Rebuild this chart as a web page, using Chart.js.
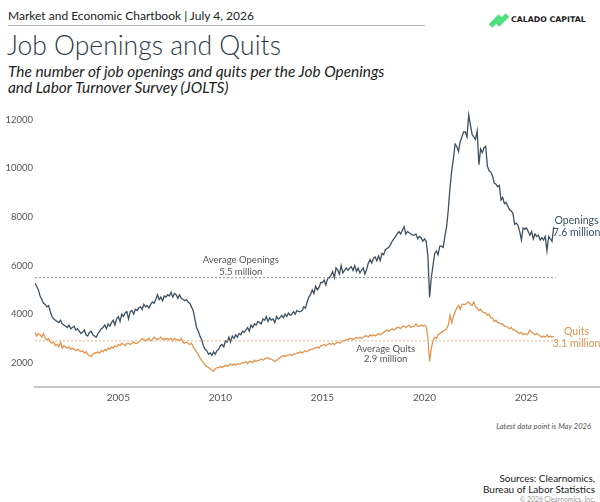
<!DOCTYPE html>
<html>
<head>
<meta charset="utf-8">
<script src="https://cdn.jsdelivr.net/npm/chart.js@4.4.1/dist/chart.umd.min.js"></script>
<style>
  body { margin: 0; background: #fff; font-family: Lato, "Open Sans", sans-serif; }
  #page { position: relative; width: 600px; height: 502px; overflow: hidden; }
  .abs { position: absolute; white-space: nowrap; }
  #header { left: 8px; top: 8px; font-size: 12px; color: #222; }
  #rule { left: 8px; top: 25px; width: 417px; height: 1px; background: #b5b5b5; }
  #title { left: 7px; top: 29px; font-size: 26.5px; font-weight: 300; color: #2f3a44; }
  #subtitle { left: 8px; top: 64px; font-size: 15.4px; font-style: italic; line-height: 15.5px; color: #222; }
  #logo { left: 489px; top: 14px; width: 110px; height: 14px; }
  #logo .txt { position: absolute; left: 22px; top: 1px; font-family: "DejaVu Sans", sans-serif; font-weight: bold; font-size: 7.8px; letter-spacing: 0; color: #222; }
  #logo .bar { position: absolute; width: 5px; height: 14px; background: #4ee07f; transform: rotate(45deg); }
  #latest { right: 9px; top: 421px; font-size: 7.6px; font-style: italic; color: #555; }
  #sources { right: 5px; top: 473px; font-size: 10px; line-height: 10.5px; color: #222; text-align: right; }
  #copy { right: 5px; top: 495px; font-size: 6.8px; color: #999; }
  #chart { position: absolute; left: 0; top: 100px; }
</style>
</head>
<body>
<div id="page">
  <div class="abs" id="header">Market and Economic Chartbook | July 4, 2026</div>
  <div class="abs" id="rule"></div>
  <div class="abs" id="title">Job Openings and Quits</div>
  <div class="abs" id="subtitle">The number of job openings and quits per the Job Openings<br>and Labor Turnover Survey (JOLTS)</div>
  <div class="abs" id="logo">
    <div class="bar" style="left:4px;top:0px;"></div>
    <div class="bar" style="left:11px;top:-1px;"></div>
    <div class="txt">CALADO CAPITAL</div>
  </div>
  <canvas id="chart" width="600" height="310"></canvas>
  <div class="abs" id="latest">Latest data point is May 2026</div>
  <div class="abs" id="sources">Sources: Clearnomics,<br>Bureau of Labor Statistics</div>
  <div class="abs" id="copy">© 2026 Clearnomics, Inc.</div>
</div>
<script>
// monthly JOLTS data, Dec 2000 .. May 2026 (thousands)
const startYear = 2000;
const startMonth = 12;

const openings = [
    5280,
    5150, 5000, 4750, 4600, 4450, 4400, 4300, 4350, 4100, 3900, 3800, 3750,
    3700, 3650, 3750, 3600, 3550, 3500, 3450, 3550, 3400, 3450, 3500, 3350,
    3400, 3300, 3200, 3250, 3350, 3150, 3100, 3250, 3300, 3150, 3100, 3050,
    3200, 3300, 3400, 3450, 3550, 3400, 3600, 3500, 3650, 3750, 3550, 3800,
    3900, 3700, 4000, 3900, 4050, 4100, 3800, 4100, 4150, 4000, 4200, 4150,
    4250, 4300, 4200, 4400, 4300, 4350, 4250, 4400, 4500, 4450, 4600, 4800,
    4600, 4700, 4550, 4750, 4700, 4800, 4750, 4900, 4700, 4850, 4800, 4650,
    4800, 4650, 4600, 4550, 4600, 4500, 4450, 4300, 4150, 3800, 3450, 3300,
    3100, 2950, 2700, 2550, 2500, 2350, 2400, 2300, 2450, 2350, 2500, 2550,
    2700, 2750, 2650, 2900, 2850, 3050, 2850, 3100, 3000, 3150, 3050, 3200,
    3150, 3300, 3250, 3350, 3450, 3300, 3550, 3450, 3600, 3550, 3700, 3650,
    3600, 3800, 3750, 3900, 3700, 3850, 3750, 3800, 3650, 3900, 3800, 3850,
    3950, 3850, 4000, 3900, 4050, 3950, 4000, 4100, 4000, 4150, 4100, 4100,
    4150, 4300, 4250, 4500, 4700, 4800, 5000, 4850, 5150, 5000, 5100, 5300,
    5300, 5400, 5200, 5450, 5500, 5600, 5750, 5500, 5900, 5800, 5650, 6000,
    5700, 5800, 5900, 5800, 5900, 5950, 5800, 6000, 5750, 5900, 5700, 5800,
    5900, 5650, 5850, 6100, 6250, 6100, 6300, 6350, 6200, 6400, 6200, 6500,
    6450, 6650, 6700, 6750, 6850, 7000, 7100, 7200, 7300, 7400, 7300, 7450,
    7600, 7300, 7400, 7350, 7300, 7250, 7250, 7300, 7100, 7200, 7150, 7000,
    7100, 7000, 6400, 4700, 5500, 6000, 6500, 6600, 6450, 6800, 6800, 6750,
    7200, 7600, 8300, 9200, 9900, 10400, 11000, 10900, 10700, 11100, 11300, 11500,
    11500, 11300, 12200, 11800, 11400, 11300, 11200, 11550, 10150, 10800, 10650, 10850,
    10900, 10100, 9900, 9850, 9700, 9400, 9350, 9250, 9300, 8700, 8800, 8550,
    8600, 8450, 8300, 8250, 8150, 7700, 7750, 7650, 7400, 7050, 7550, 7500,
    7550, 7400, 7250, 7400, 7100, 7300, 7200, 7250, 7050, 7150, 7050, 7200,
    6600, 7200, 7100, 7000, 7600
];

const quits = [
    3250,
    3100, 3200, 3150, 3050, 3200, 3000, 2950, 3000, 2850, 2800, 2850, 2700,
    2750, 2650, 2850, 2600, 2700, 2650, 2600, 2650, 2550, 2600, 2550, 2500,
    2550, 2500, 2450, 2500, 2400, 2450, 2350, 2300, 2250, 2350, 2400, 2400,
    2450, 2400, 2500, 2450, 2550, 2500, 2600, 2550, 2650, 2600, 2700, 2650,
    2750, 2700, 2800, 2750, 2700, 2800, 2800, 2750, 2800, 2850, 2800, 2800,
    2850, 2900, 3000, 2950, 2900, 2950, 3000, 2900, 2950, 3050, 3000, 2950,
    3000, 3050, 2950, 3000, 2950, 3000, 2950, 3000, 2900, 3000, 2950, 2950,
    2900, 3000, 2850, 2800, 2850, 2800, 2750, 2800, 2650, 2550, 2450, 2350,
    2200, 2100, 2000, 1900, 1850, 1800, 1750, 1700, 1650, 1750, 1800, 1800,
    1850, 1800, 1850, 1900, 1850, 1900, 1950, 1900, 1950, 1900, 1950, 1950,
    1950, 2000, 2000, 2050, 1950, 2050, 2050, 2000, 2100, 2050, 2100, 2100,
    2150, 2100, 2150, 2200, 2200, 2150, 2150, 2100, 2050, 2100, 2150, 2200,
    2250, 2300, 2250, 2300, 2300, 2350, 2300, 2350, 2350, 2400, 2400, 2450,
    2400, 2450, 2500, 2450, 2500, 2550, 2550, 2600, 2600, 2650, 2600, 2700,
    2700, 2750, 2700, 2750, 2800, 2750, 2800, 2750, 2800, 2850, 2800, 2850,
    2900, 2900, 2950, 2950, 3000, 3000, 2950, 3000, 3050, 3000, 3050, 3000,
    3050, 3100, 3100, 3050, 3150, 3100, 3150, 3100, 3150, 3200, 3150, 3200,
    3250, 3300, 3350, 3300, 3350, 3400, 3350, 3400, 3450, 3450, 3400, 3500,
    3500, 3450, 3500, 3550, 3450, 3500, 3500, 3600, 3500, 3500, 3550, 3500,
    3550, 3500, 3050, 2050, 2600, 2900, 3050, 3000, 3150, 3200, 3250, 3300,
    3350, 3400, 3550, 3950, 3650, 3900, 4100, 4250, 4350, 4200, 4400, 4400,
    4400, 4450, 4500, 4400, 4350, 4500, 4300, 4250, 4150, 4200, 4100, 4050,
    4050, 3950, 4000, 3850, 3850, 3700, 3750, 3650, 3650, 3600, 3600, 3500,
    3500, 3450, 3400, 3450, 3350, 3350, 3300, 3250, 3200, 3250, 3150, 3200,
    3150, 3200, 3350, 3250, 3200, 3150, 3200, 3150, 3100, 3050, 3100, 3050,
    3150, 3050, 3100, 3050, 3100
];

const avgOpenings = 5500;
const avgQuits = 2900;
const xTickYears = [2005, 2010, 2015, 2020, 2025];
const yTicks = [2000, 4000, 6000, 8000, 10000, 12000];

const slate = '#3e5063';
const orange = '#e3944f';

// month index -> decimal year
function toYear(i) {
    return startYear + (startMonth - 1 + i) / 12;
}
const firstX = toYear(0);
const lastX = toYear(openings.length - 1);

const openPts = openings.map((v, i) => ({ x: toYear(i), y: v }));
const quitPts = quits.map((v, i) => ({ x: toYear(i), y: v }));

// text labels placed with the chart scales
const labelPlugin = {
    id: 'labels',
    afterDatasetsDraw(chart) {
        const ctx = chart.ctx;
        const xs = chart.scales.x, ys = chart.scales.y;
        ctx.save();
        ctx.textAlign = 'center';
        ctx.textBaseline = 'middle';
        ctx.font = '9.5px Lato, sans-serif';
        ctx.fillStyle = '#555';
        let x = xs.getPixelForValue(2011.0);
        let y = ys.getPixelForValue(avgOpenings);
        ctx.fillText('Average Openings', x, y - 18);
        ctx.fillText('5.5 million', x, y - 6);
        x = xs.getPixelForValue(2018.1);
        y = ys.getPixelForValue(avgQuits);
        ctx.fillText('Average Quits', x, y + 8);
        ctx.fillText('2.9 million', x, y + 18);

        ctx.font = '10.5px Lato, sans-serif';
        x = xs.getPixelForValue(2027.45);
        ctx.fillStyle = slate;
        y = ys.getPixelForValue(openings[openings.length - 1]);
        ctx.fillText('Openings', x, y - 6);
        ctx.fillText('7.6 million', x, y + 6);
        ctx.fillStyle = orange;
        y = ys.getPixelForValue(quits[quits.length - 1]);
        ctx.fillText('Quits', x, y - 4);
        ctx.fillText('3.1 million', x, y + 8);
        ctx.restore();
    }
};

new Chart(document.getElementById('chart').getContext('2d'), {
    type: 'line',
    data: {
        datasets: [{
            label: 'Average Openings',
            data: [{ x: firstX, y: avgOpenings }, { x: lastX + 0.1, y: avgOpenings }],
            borderColor: '#8a8f95',
            borderWidth: 1,
            borderDash: [2, 2],
            pointRadius: 0
        }, {
            label: 'Average Quits',
            data: [{ x: firstX, y: avgQuits }, { x: lastX + 0.1, y: avgQuits }],
            borderColor: '#ecb482',
            borderWidth: 1,
            borderDash: [2, 2],
            pointRadius: 0
        }, {
            label: 'Openings',
            data: openPts,
            borderColor: slate,
            borderWidth: 1.3,
            pointRadius: 0,
            tension: 0
        }, {
            label: 'Quits',
            data: quitPts,
            borderColor: orange,
            borderWidth: 1.3,
            pointRadius: 0,
            tension: 0
        }]
    },
    options: {
        responsive: false,
        animation: false,
        devicePixelRatio: 1,
        layout: { padding: { top: 7, right: 0, left: 0, bottom: 0 } },
        scales: {
            x: {
                type: 'linear',
                min: firstX,
                max: 2028.6,
                afterBuildTicks: axis => { axis.ticks = xTickYears.map(v => ({ value: v })); },
                afterFit: axis => { axis.height = 23; },
                grid: { display: false, drawTicks: false },
                border: { display: true, color: '#c6c6c6', width: 2 },
                ticks: {
                    padding: 5,
                    color: '#555',
                    font: { family: 'Lato', size: 10 },
                    maxRotation: 0,
                    callback: v => String(v)
                }
            },
            y: {
                min: 1000,
                max: 12500,
                afterBuildTicks: axis => { axis.ticks = yTicks.map(v => ({ value: v })); },
                afterFit: axis => { axis.width = 35; },
                grid: { display: false, drawTicks: false },
                border: { display: false },
                ticks: {
                    padding: 2,
                    color: '#555',
                    font: { family: 'Lato', size: 9.5 },
                    callback: v => String(v)
                }
            }
        },
        plugins: {
            legend: { display: false },
            tooltip: { enabled: false }
        }
    },
    plugins: [labelPlugin]
});
</script>
</body>
</html>
